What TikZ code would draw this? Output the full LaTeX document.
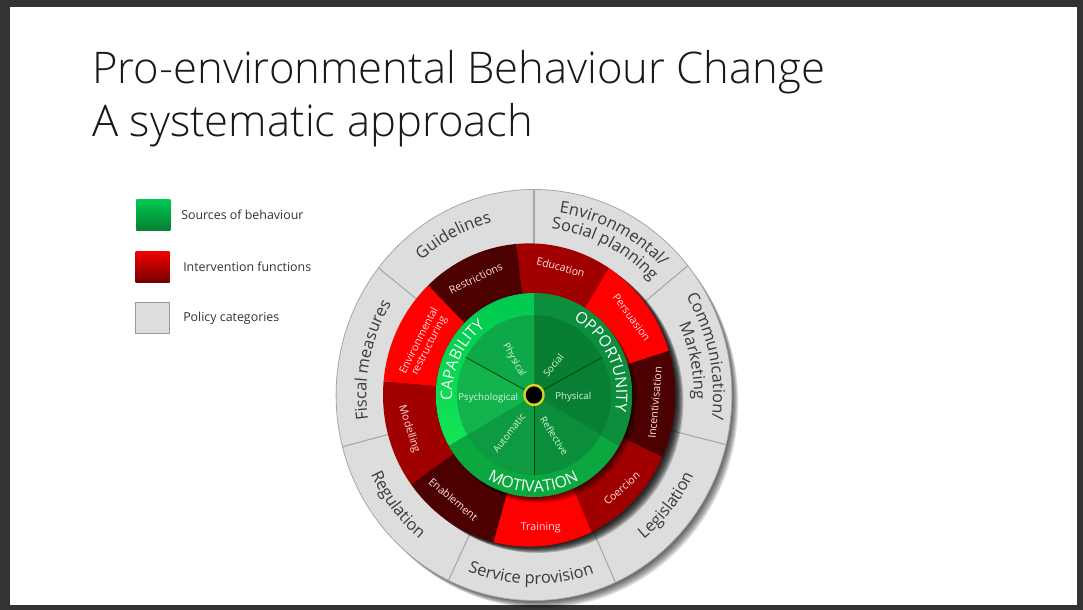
\documentclass[tikz,border=0pt]{standalone}
\usepackage{fontspec}
\setmainfont{Open Sans}
\newfontfamily\titlefont{Open Sans Light}
\usetikzlibrary{decorations.text}

\definecolor{slideedge}{HTML}{333333}
\definecolor{polgray}{HTML}{DDDDDD}
\definecolor{polline}{HTML}{A6A6A6}
\definecolor{polword}{HTML}{3A3A3A}
\definecolor{reddark}{HTML}{4D0000}
\definecolor{redmid}{HTML}{A00000}
\definecolor{redlight}{HTML}{FF0000}
\definecolor{wordgreen}{HTML}{DDF3DD}
\definecolor{captop}{HTML}{00C850}
\definecolor{capbottom}{HTML}{14E656}
\definecolor{oppouter}{HTML}{0B8F3C}
\definecolor{motouter}{HTML}{0BA83F}
\definecolor{cappsy}{HTML}{12B24C}
\definecolor{capphy}{HTML}{0FA848}
\definecolor{oppsoc}{HTML}{087E33}
\definecolor{oppphy}{HTML}{097F35}
\definecolor{motref}{HTML}{0A8E3A}
\definecolor{motaut}{HTML}{0D9A40}

\newcommand{\polfont}{\color{polword}\fontsize{12.3}{14}\selectfont}
\newcommand{\comfont}{\color{white}\fontsize{11.8}{13}\selectfont}
% arc labels, reading with the clock or against it
\newcommand{\cwword}[4]{\path[decorate, decoration={text along path, text align=center, text={|#1|#4}}]
	(#2+60:#3) arc[start angle=#2+60, end angle=#2-60, radius=#3];}
\newcommand{\ccwword}[4]{\path[decorate, decoration={text along path, text align=center, text={|#1|#4}}]
	(#2-60:#3) arc[start angle=#2-60, end angle=#2+60, radius=#3];}

\tikzset{
	legendbox/.style={minimum width=25.5pt, minimum height=23pt, inner sep=0pt},
	legendword/.style={anchor=west, inner sep=0pt, text=black!80, font=\fontsize{9.3}{11}\selectfont},
	redword/.style={text=white!88!red, inner sep=0pt, font=\fontsize{8}{8.4}\selectfont, align=center},
	greenword/.style={text=wordgreen, inner sep=0pt, font=\fontsize{7.2}{8}\selectfont},
	titleword/.style={anchor=base west, inner sep=0pt, text=black!90, font=\titlefont\fontsize{32.7}{36}\selectfont},
}

\begin{document}
\begin{tikzpicture}[x=.75pt, y=.75pt]
\useasboundingbox (0,0) rectangle (1083,610);
\fill[slideedge] (0,0) rectangle (1083,610);
\fill[white] (10,4.5) rectangle (1076.5,603);

\node[titleword] (titleone) at (92,526.5) {Pro-environmental Behaviour Change};
\node[titleword] (titletwo) at (92,473.5) {A systematic approach};

\node[legendbox, top color=captop, bottom color=oppsoc] (boxsources) at (153.3,394.7) {};
\node[legendbox, top color=red!95!black, bottom color=red!45!black] (boxfunctions) at (152.6,342.8) {};
\node[legendbox, fill=polgray, draw=black!40, line width=.8pt] (boxpolicy) at (152.5,292.2) {};
\node[legendword] (wordsources) at (181,395.5) {Sources of behaviour};
\node[legendword] (wordfunctions) at (183,343) {Intervention functions};
\node[legendword] (wordpolicy) at (183,292) {Policy categories};

\begin{scope}[shift={(534,215)}, x=.7222pt, y=.75pt]
	% shadow under the outer ring
	\foreach \i in {1,...,8}
		\fill[black, opacity=.11] (\i*.9,-\i) circle[radius=205];
	\fill[polgray, draw=polline, line width=.6pt] (0,0) circle[radius=205.5];
	\foreach \ang in {90,39,-14,-65.7,-115.6,-165.4,141.8}
		\draw[polline, line width=.8pt] (\ang:140) -- (\ang:205.5);

	% shadow round the red ring
	\foreach \i in {1,...,8}
		\fill[black, opacity=.2] (-5.2+\i*1.1,-\i*.8) circle[radius=151.6];
	\begin{scope}
		\clip (-5.2,0) circle[radius=151.6];
		\foreach \from/\to/\col in {97/58.5/redmid, 58.5/17.5/redlight, 17.5/-25/reddark, -25/-66.5/redmid,
			-66.5/-106/redlight, -106/-145/reddark, -145/-185/redmid, -185/-225/redlight, -225/-263/reddark}
			\fill[\col] (0,0) -- (\from:220) arc[start angle=\from, end angle=\to, radius=220] -- cycle;
	\end{scope}

	% green wheel
	\foreach \i in {1,...,6}
		\fill[black, opacity=.12] (\i*.9,-\i) circle[radius=102];
	\fill[top color=captop, bottom color=capbottom] (0,0) -- (90:102) arc[start angle=90, end angle=210, radius=102] -- cycle;
	\fill[oppouter] (0,0) -- (90:102) arc[start angle=90, end angle=-30, radius=102] -- cycle;
	\fill[motouter] (0,0) -- (-30:102) arc[start angle=-30, end angle=-150, radius=102] -- cycle;
	\foreach \from/\to/\col in {90/28/oppsoc, 28/-30/oppphy, -30/-90/motref,
		-90/-150/motaut, -150/-208/cappsy, 152/90/capphy}
		\fill[\col] (0,0) -- (\from:80) arc[start angle=\from, end angle=\to, radius=80] -- cycle;
	\foreach \ang in {152,28,-90}
		\draw[green!28!black, line width=.6pt] (0,0) -- (\ang:80);
	\fill[yellow!85!black] (0,0) circle[radius=11.2];
	\fill[black] (0,0) circle[radius=8.6];

	\cwword{\polfont}{117}{178}{Guidelines}
	\cwword{\polfont}{63.5}{184}{Environmental/}
	\cwword{\polfont}{64}{167}{Social planning}
	\cwword{\polfont}{12.5}{186}{Communication/}
	\cwword{\polfont}{12}{166}{Marketing}
	\ccwword{\polfont}{-39.5}{184}{Legislation}
	\ccwword{\polfont}{-91}{189}{Service provision}
	\ccwword{\polfont}{-141.5}{187}{Regulation}
	\cwword{\polfont}{168}{174}{Fiscal measures}
	\cwword{\comfont}{154.5}{85}{CAPABILITY}
	\cwword{\comfont}{25.5}{85.5}{OPPORTUNITY}
	\ccwword{\comfont}{-90.5}{97}{MOTIVATION}
\end{scope}

\node[redword, rotate=26] (restrictions) at (475.7,331.7) {Restrictions};
\node[redword, rotate=-15] (education) at (560.7,342.7) {Education};
\node[redword, rotate=-53.5] (persuasion) at (631.7,292.7) {Persuasion};
\node[redword, rotate=85] (incentivisation) at (655,207.3) {Incentivisation};
\node[redword, rotate=42] (coercion) at (621.7,121.7) {Coercion};
\node[redword, rotate=1] (training) at (540.7,82.3) {Training};
\node[redword, rotate=-40] (enablement) at (453.3,110.7) {Enablement};
\node[redword, rotate=-72] (modelling) at (409,180.7) {Modelling};
\node[redword, rotate=63] (restructuring) at (424.3,266.7) {Environmental\\restructuring};

\node[greenword, rotate=-60] (physicalcap) at (514,250) {Physical};
\node[greenword] (psychological) at (488.3,212.3) {Psychological};
\node[greenword, rotate=50] (social) at (553.3,245) {Social};
\node[greenword] (physicalopp) at (573.3,212.7) {Physical};
\node[greenword, rotate=52] (automatic) at (509,176.7) {Automatic};
\node[greenword, rotate=-57] (reflective) at (554.3,174.3) {Reflective};
\end{tikzpicture}
\end{document}
